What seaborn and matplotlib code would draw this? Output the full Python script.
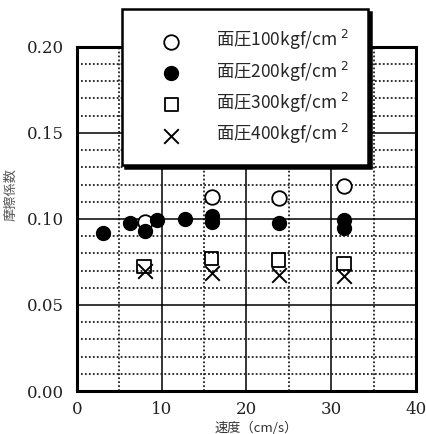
import numpy as np
import pandas as pd
import matplotlib
matplotlib.use('Agg')
import matplotlib.pyplot as plt
from matplotlib.ticker import MultipleLocator
import seaborn as sns

# friction coefficient vs sliding speed
speed_100 = [8.0, 15.9, 23.8, 31.5]
mu_100 = [0.0985, 0.113, 0.112, 0.119]

speed_200 = [3.1, 6.3, 8.0, 9.5, 12.7, 15.9, 15.9, 23.8, 31.5, 31.5]
mu_200 = [0.092, 0.0975, 0.093, 0.0995, 0.100, 0.102, 0.098, 0.0975, 0.0995, 0.0945]

speed_300 = [7.9, 15.9, 23.8, 31.5]
mu_300 = [0.0725, 0.077, 0.076, 0.074]

speed_400 = [8.0, 15.9, 23.8, 31.5]
mu_400 = [0.0695, 0.0685, 0.0672, 0.067]

labels = ['面圧100kgf/cm $^{2}$', '面圧200kgf/cm $^{2}$',
          '面圧300kgf/cm $^{2}$', '面圧400kgf/cm $^{2}$']

sns.set_theme(style='white')
plt.rcParams['font.family'] = ['Noto Sans CJK JP', 'DejaVu Sans']

fig = plt.figure(figsize=(4.27, 4.34), dpi=100)
ax = fig.add_axes([0.180, 0.099, 0.794, 0.793])

d1 = pd.DataFrame({'speed': speed_100, 'mu': mu_100})
d2 = pd.DataFrame({'speed': speed_200, 'mu': mu_200})
d3 = pd.DataFrame({'speed': speed_300, 'mu': mu_300})
d4 = pd.DataFrame({'speed': speed_400, 'mu': mu_400})

sns.scatterplot(data=d1, x='speed', y='mu', marker='o', s=110, facecolor='white',
                edgecolor='black', linewidth=1.3, label=labels[0], ax=ax, zorder=3)
sns.scatterplot(data=d2, x='speed', y='mu', marker='o', s=100, color='black',
                edgecolor='black', linewidth=1.0, label=labels[1], ax=ax, zorder=4)
sns.scatterplot(data=d3, x='speed', y='mu', marker='s', s=95, facecolor='none',
                edgecolor='black', linewidth=1.3, label=labels[2], ax=ax, zorder=3)
sns.scatterplot(data=d4, x='speed', y='mu', marker='x', s=110, color='black',
                linewidth=1.4, label=labels[3], ax=ax, zorder=3)

ax.set_xlim(0, 40)
ax.set_ylim(0, 0.20)
ax.xaxis.set_major_locator(MultipleLocator(10))
ax.xaxis.set_minor_locator(MultipleLocator(5))
ax.yaxis.set_major_locator(MultipleLocator(0.05))
ax.yaxis.set_minor_locator(MultipleLocator(0.01))
ax.set_xticks([0, 10, 20, 30, 40])
ax.set_yticks([0, 0.05, 0.10, 0.15, 0.20])
ax.set_yticklabels(['0.00', '0.05', '0.10', '0.15', '0.20'])
ax.set_xticklabels(['0', '10', '20', '30', '40'])

ax.grid(which='major', color='black', linewidth=1.1, linestyle='-')
ax.grid(which='minor', color='#222222', linewidth=1.3, linestyle=(0, (1, 1.2)))
ax.set_axisbelow(True)

for sp in ax.spines.values():
    sp.set_linewidth(2.2)
    sp.set_color('black')

ax.tick_params(which='both', length=0)
ax.tick_params(axis='y', pad=9)
ax.tick_params(axis='x', pad=7)
for t in ax.get_xticklabels() + ax.get_yticklabels():
    t.set_family('DejaVu Serif')
    t.set_fontsize(12)
    t.set_color('#222222')

ax.set_xlabel('速度（cm/s）', fontsize=9.5, color='#333333')
ax.xaxis.set_label_coords(0.528, -0.088)
ax.set_ylabel('摩擦係数', fontsize=9.5, color='#555555')
ax.yaxis.set_label_coords(-0.175, 0.57)

leg = ax.legend(loc='upper left', bbox_to_anchor=(0.133, 1.11), borderaxespad=0,
                fontsize=12.5, frameon=True, fancybox=False, framealpha=1,
                edgecolor='black', borderpad=1.1, handlelength=3.5,
                handletextpad=0.8, labelspacing=0.42,
                shadow={'color': 'black', 'alpha': 1})
leg.get_frame().set_linewidth(1.8)
leg.set_zorder(10)

fig.savefig('out.png', dpi=100)
